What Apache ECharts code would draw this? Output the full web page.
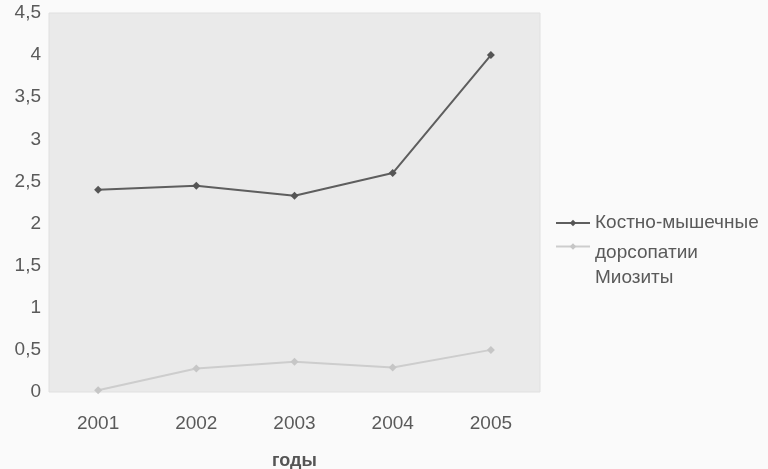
<!DOCTYPE html>
<html>
<head>
<meta charset="utf-8">
<script src="https://cdn.jsdelivr.net/npm/echarts@6/dist/echarts.min.js"></script>
<style>
  html, body { margin: 0; padding: 0; background: #fafafa; }
  #chart { width: 768px; height: 469px; }
</style>
</head>
<body>
<div id="chart"></div>
<script>
var years = ['2001', '2002', '2003', '2004', '2005'];
var dorsopathy = [2.4, 2.45, 2.33, 2.6, 4.0];
var myositis = [0.02, 0.28, 0.36, 0.29, 0.5];
var yTicks = [0, 0.5, 1, 1.5, 2, 2.5, 3, 3.5, 4, 4.5];

var nameDors = 'Костно-мышечные дорсопатии';
var nameMyo = 'Миозиты';

var legendText = {
    fontFamily: 'Liberation Sans',
    fontSize: 19,
    color: '#5a5a5a'
};

var myChart = echarts.init(document.getElementById('chart'));
var option = {
    backgroundColor: '#fafafa',
    animation: false,
    grid: {
        left: 49,
        right: 228,
        top: 13,
        bottom: 77,
        outerBoundsMode: 'none',
        show: true,
        backgroundColor: '#eaeaea',
        borderColor: '#e0e0e0',
        borderWidth: 1
    },
    legend: [
        {
            // пустая строка сверху, чтобы значок стоял у первой строки
            orient: 'vertical',
            left: 555,
            top: 178,
            padding: 0,
            itemWidth: 34,
            itemHeight: 8,
            formatter: function () { return '\nКостно-мышечные\nдорсопатии'; },
            textStyle: Object.assign({ lineHeight: 30 }, legendText),
            data: [nameDors]
        },
        {
            orient: 'vertical',
            left: 555,
            top: 200,
            padding: 0,
            itemWidth: 34,
            itemHeight: 8,
            formatter: function (n) { return '\n\n' + n; },
            textStyle: Object.assign({ lineHeight: 31 }, legendText),
            data: [nameMyo]
        }
    ],
    xAxis: {
        type: 'category',
        data: years,
        name: 'годы',
        nameLocation: 'middle',
        nameGap: 60,
        nameTextStyle: {
            fontFamily: 'Liberation Sans',
            fontSize: 18,
            fontWeight: 'bold',
            color: '#555'
        },
        axisLine: { show: false },
        axisTick: { show: false },
        axisLabel: {
            margin: 22,
            fontFamily: 'Liberation Sans',
            fontSize: 19,
            color: '#5a5a5a'
        }
    },
    yAxis: {
        type: 'value',
        min: 0,
        max: 4.5,
        interval: 0.5,
        splitLine: { show: false },
        axisLine: { show: false },
        axisTick: { show: false },
        axisLabel: {
            margin: 8,
            fontFamily: 'Liberation Sans',
            fontSize: 19,
            color: '#5a5a5a',
            formatter: function (v) {
                return yTicks.indexOf(v) >= 0 ? String(v).replace('.', ',') : '';
            }
        }
    },
    series: [
        {
            name: nameDors,
            type: 'line',
            data: dorsopathy,
            symbol: 'diamond',
            symbolSize: 8,
            itemStyle: { color: '#555' },
            lineStyle: { color: '#5e5e5e', width: 2 }
        },
        {
            name: nameMyo,
            type: 'line',
            data: myositis,
            symbol: 'diamond',
            symbolSize: 8,
            itemStyle: { color: '#c6c6c6' },
            lineStyle: { color: '#cdcdcd', width: 2 }
        }
    ]
};
myChart.setOption(option);
</script>
</body>
</html>
